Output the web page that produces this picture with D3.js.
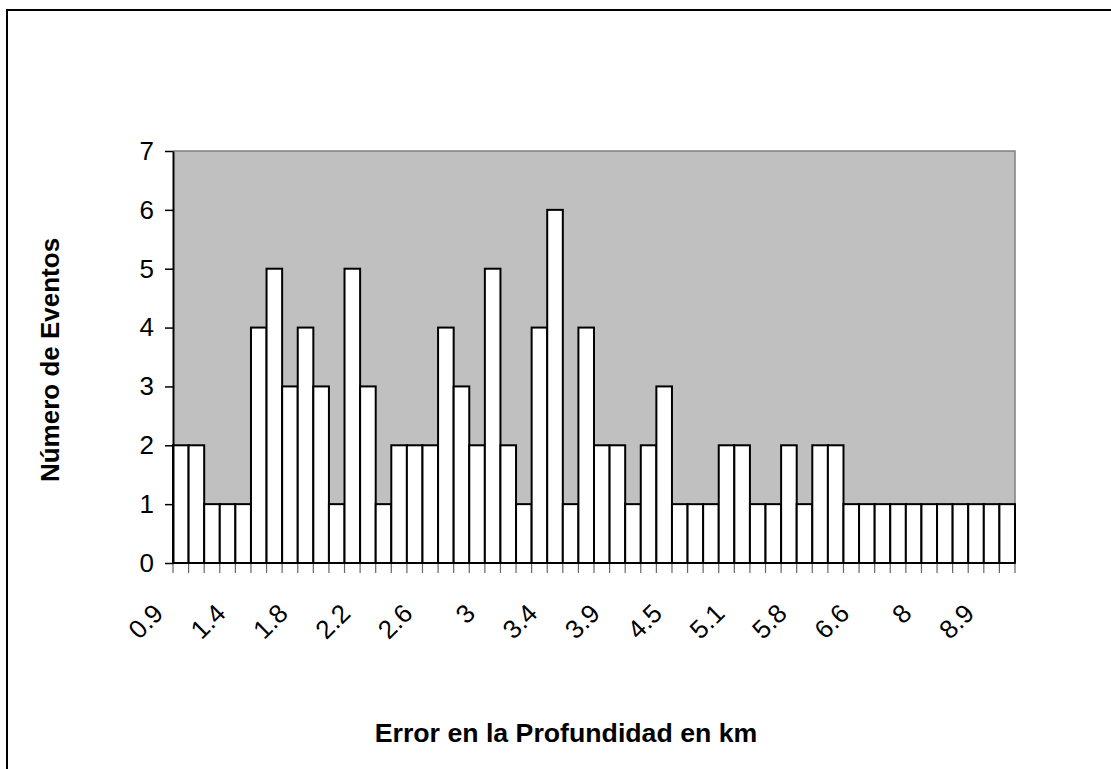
<head>
    <meta charset="utf-8">
    <title>Error en la Profundidad</title>
    <script src="https://d3js.org/d3.v7.min.js"></script>
    <style>
        body { margin: 0; background: #fff; }
        text { font-family: "Liberation Sans", Arial, sans-serif; }
    </style>
</head>

<body>
    <svg width="1111" height="769"></svg>
    <script>
        // error bins (km) and number of events per bin
        var categories = ["0.9", "1.0", "1.1", "1.2", "1.4", "1.5", "1.6", "1.7", "1.8", "1.9",
            "2.0", "2.1", "2.2", "2.3", "2.4", "2.5", "2.6", "2.7", "2.8", "2.9",
            "3", "3.1", "3.2", "3.3", "3.4", "3.5", "3.6", "3.8", "3.9", "4.0",
            "4.1", "4.3", "4.5", "4.6", "4.8", "4.9", "5.1", "5.2", "5.4", "5.6",
            "5.8", "6.0", "6.2", "6.4", "6.6", "6.9", "7.2", "7.6", "8", "8.2",
            "8.5", "8.7", "8.9", "9.3"];
        var counts = [2, 2, 1, 1, 1, 4, 5, 3, 4, 3, 1, 5, 3, 1, 2, 2, 2, 4, 3,
            2, 5, 2, 1, 4, 6, 1, 4, 2, 2, 1, 2, 3, 1, 1, 1, 2, 2,
            1, 1, 2, 1, 2, 2, 1, 1, 1, 1, 1, 1, 1, 1, 1, 1, 1];
        var shownLabels = ["0.9", "1.4", "1.8", "2.2", "2.6", "3", "3.4", "3.9", "4.5", "5.1", "5.8", "6.6", "8", "8.9"];
        var yTicks = [0, 1, 2, 3, 4, 5, 6, 7];

        var data = categories.map(function (c, i) { return { cat: c, value: counts[i] }; });

        var svg = d3.select("svg");
        var plotLeft = 173, plotRight = 1015, plotTop = 151, plotBottom = 563;

        // outer frame
        svg.append("rect")
            .attr("x", 7).attr("y", 10)
            .attr("width", 1200).attr("height", 900)
            .attr("fill", "none").attr("stroke", "#000").attr("stroke-width", 2);

        var x = d3.scaleBand().domain(categories).range([plotLeft, plotRight]).padding(0);
        var y = d3.scaleLinear().domain([0, 7]).range([plotBottom, plotTop]);

        // plot area
        svg.append("rect")
            .attr("x", plotLeft).attr("y", plotTop)
            .attr("width", plotRight - plotLeft).attr("height", plotBottom - plotTop)
            .attr("fill", "#c0c0c0");
        svg.append("path")
            .attr("d", "M" + plotLeft + "," + plotTop + "H" + plotRight + "V" + plotBottom)
            .attr("fill", "none").attr("stroke", "#808080").attr("stroke-width", 1.5);

        svg.selectAll(".bar")
            .data(data)
            .enter()
            .append("rect")
            .attr("class", "bar")
            .attr("x", function (d) { return x(d.cat); })
            .attr("y", function (d) { return y(d.value); })
            .attr("width", x.bandwidth())
            .attr("height", function (d) { return plotBottom - y(d.value); })
            .attr("fill", "#fff")
            .attr("stroke", "#000")
            .attr("stroke-width", 2);

        // x ticks at bin boundaries
        var bounds = categories.map(function (c) { return x(c); }).concat([plotRight]);
        svg.selectAll(".xtick")
            .data(bounds)
            .enter()
            .append("line")
            .attr("x1", function (d) { return d; }).attr("x2", function (d) { return d; })
            .attr("y1", plotBottom).attr("y2", plotBottom + 10)
            .attr("stroke", "#666").attr("stroke-width", 1.2);

        svg.append("line")
            .attr("x1", plotLeft).attr("x2", plotRight)
            .attr("y1", plotBottom).attr("y2", plotBottom)
            .attr("stroke", "#000").attr("stroke-width", 2);

        svg.selectAll(".xlabel")
            .data(shownLabels)
            .enter()
            .append("text")
            .attr("transform", function (d) {
                var cx = x(d) + x.bandwidth() / 2;
                return "translate(" + (cx - 16) + "," + 615 + ") rotate(-45)";
            })
            .attr("text-anchor", "end")
            .attr("font-size", 26)
            .text(function (d) { return d; });

        // y axis
        var yAxis = d3.axisLeft(y).tickValues(yTicks).tickFormat(d3.format("d"))
            .tickSize(8).tickSizeOuter(0).tickPadding(11);
        var ya = svg.append("g").attr("transform", "translate(" + plotLeft + ",0)").call(yAxis);
        ya.select(".domain").attr("stroke", "#000").attr("stroke-width", 2);
        ya.selectAll(".tick line").attr("stroke", "#000").attr("stroke-width", 1.5);
        ya.selectAll(".tick text")
            .attr("font-size", 26)
            .attr("font-family", "Liberation Sans, Arial, sans-serif")
            .attr("fill", "#000");

        svg.append("text")
            .attr("x", 566).attr("y", 742)
            .attr("text-anchor", "middle")
            .attr("font-size", 26.7)
            .attr("font-weight", "bold")
            .text("Error en la Profundidad en km");

        svg.append("text")
            .attr("transform", "translate(59,360) rotate(-90)")
            .attr("text-anchor", "middle")
            .attr("font-size", 26)
            .attr("font-weight", "bold")
            .text("Número de Eventos");
    </script>
</body>
